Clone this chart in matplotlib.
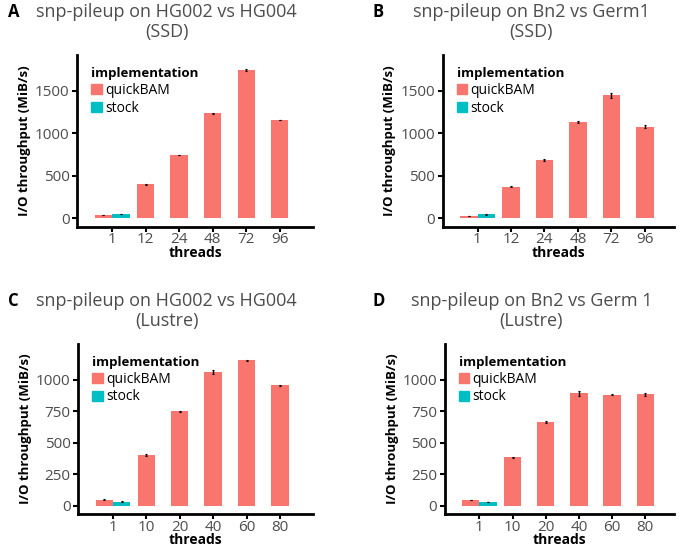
import matplotlib
matplotlib.use("Agg")
import matplotlib.pyplot as plt
from matplotlib.patches import Patch
import numpy as np

plt.rcParams['font.family'] = ['Open Sans', 'DejaVu Sans']

rojo = '#F8766D'
turquesa = '#00BFC4'
gris = '#4D4D4D'

hilos_ssd = ['1', '12', '24', '48', '72', '96']
hilos_lustre = ['1', '10', '20', '40', '60', '80']

# quickBAM por panel
a_quick = [37, 400, 745, 1237, 1747, 1158]
a_quick_err = [3, 4, 4, 8, 8, 4]
a_stock, a_stock_err = 50, 2

b_quick = [30, 372, 687, 1138, 1450, 1079]
b_quick_err = [2, 4, 8, 10, 30, 14]
b_stock, b_stock_err = 45, 2

c_quick = [50, 405, 750, 1062, 1156, 957]
c_quick_err = [3, 9, 3, 16, 4, 5]
c_stock, c_stock_err = 33, 2

d_quick = [46, 384, 665, 894, 881, 886]
d_quick_err = [2, 4, 8, 20, 5, 11]
d_stock, d_stock_err = 30, 2

paneles = [
    ('A', 'snp-pileup on HG002 vs HG004', '(SSD)', hilos_ssd, a_quick, a_quick_err, a_stock, a_stock_err,
     [0, 500, 1000, 1500], (-99, 1923), [77.3, 55, 313.3, 226.7], (-1.04, 6.0)),
    ('B', 'snp-pileup on Bn2 vs Germ1', '(SSD)', hilos_ssd, b_quick, b_quick_err, b_stock, b_stock_err,
     [0, 500, 1000, 1500], (-99, 1923), [442.7, 55, 674, 226.7], (-1.04, 5.87)),
    ('C', 'snp-pileup on HG002 vs HG004', '(Lustre)', hilos_lustre, c_quick, c_quick_err, c_stock, c_stock_err,
     [0, 250, 500, 750, 1000], (-65, 1284), [78.3, 344, 313.3, 514], (-1.04, 6.0)),
    ('D', 'snp-pileup on Bn2 vs Germ 1', '(Lustre)', hilos_lustre, d_quick, d_quick_err, d_stock, d_stock_err,
     [0, 250, 500, 750, 1000], (-65, 1284), [445, 344, 674, 514], (-1.04, 5.87)),
]

W, H = 682, 548
fig = plt.figure(figsize=(W / 100, H / 100), dpi=100)

ancho = 0.52
for letra, titulo1, titulo2, hilos, quick, quick_err, stock, stock_err, yticks, ylim, caja, xlim in paneles:
    x0, y0, x1, y1 = caja
    ax = fig.add_axes([x0 / W, 1 - y1 / H, (x1 - x0) / W, (y1 - y0) / H])

    pos = np.arange(len(hilos), dtype=float)
    pos_quick = pos.copy()
    pos_quick[0] = -ancho / 2
    ax.bar(pos_quick, quick, width=ancho, color=rojo, zorder=2)
    ax.bar([ancho / 2], [stock], width=ancho, color=turquesa, zorder=2)
    ax.errorbar(pos_quick, quick, yerr=quick_err, fmt='none', ecolor='black',
                elinewidth=1, capsize=1, capthick=0.8, zorder=3)
    ax.errorbar([ancho / 2], [stock], yerr=[stock_err], fmt='none', ecolor='black',
                elinewidth=1, capsize=1, capthick=0.8, zorder=3)

    ax.set_xlim(*xlim)
    ax.set_ylim(*ylim)
    ax.set_xticks(pos)
    ax.set_xticklabels(hilos)
    ax.set_yticks(yticks)
    ax.set_yticklabels([str(v) for v in yticks])

    for lado in ['top', 'right']:
        ax.spines[lado].set_visible(False)
    for lado in ['left', 'bottom']:
        ax.spines[lado].set_linewidth(2)
        ax.spines[lado].set_color('black')
    ax.tick_params(axis='both', length=3.5, width=1.5, color='black',
                   labelcolor=gris, labelsize=11, pad=2)
    ax.tick_params(axis='x', pad=0.5)

    ax.set_xlabel('threads', fontsize=10, fontweight='bold', labelpad=-1)
    ax.set_ylabel('I/O throughput (MiB/s)', fontsize=9.5, fontweight='bold', labelpad=3)

    izquierda = x0 < 300
    cx = 166.5 if izquierda else 531.5
    fig.text(cx / W, 1 - (y0 - 43) / H, titulo1, ha='center', va='center', fontsize=13, color=gris)
    fig.text(cx / W, 1 - (y0 - 23) / H, titulo2, ha='center', va='center', fontsize=13, color=gris)
    lx = 8 if izquierda else 372
    fig.text(lx / W, 1 - (y0 - 43) / H, letra, ha='left', va='center', fontsize=12,
             fontweight='bold', color='black')

    manejadores = [Patch(color=rojo, label='quickBAM'), Patch(color=turquesa, label='stock')]
    ax.legend(handles=manejadores, title='implementation', loc='upper left',
              bbox_to_anchor=(0.06, 0.93), frameon=False, fontsize=10,
              handlelength=0.75, handleheight=0.75, handletextpad=0.25,
              labelspacing=0.2, borderpad=0, borderaxespad=0,
              alignment='left', title_fontproperties={'weight': 'bold', 'size': 9.5})

fig.savefig('out.png', dpi=100)
